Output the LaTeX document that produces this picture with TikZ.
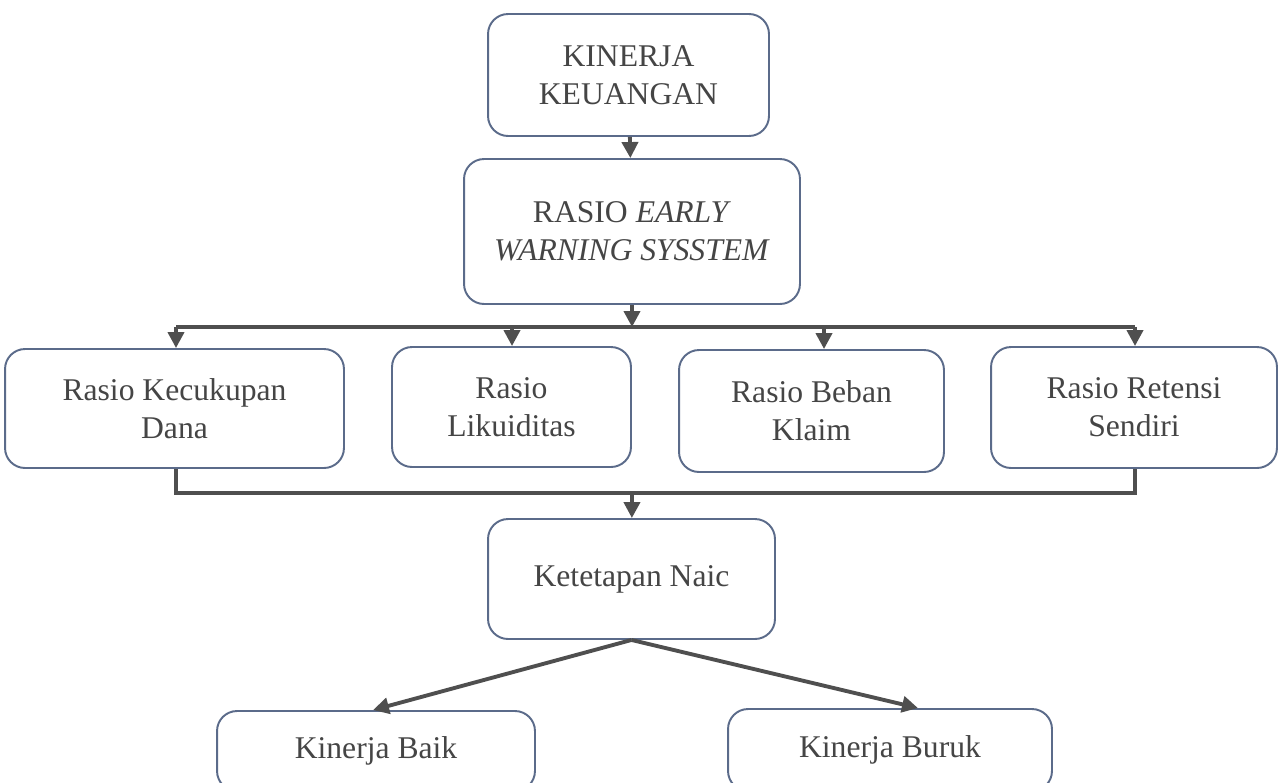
\documentclass[tikz,border=0pt]{standalone}
\usepackage{fontspec}
\setmainfont{Liberation Serif}
\usetikzlibrary{arrows.meta}

\definecolor{boxline}{HTML}{5B6B8A}
\definecolor{linkgray}{HTML}{4F4F4F}
\definecolor{textgray}{HTML}{454545}

\begin{document}
\begin{tikzpicture}[x=0.02cm, y=-0.02cm, >={Triangle[length=0.32cm,width=0.32cm]},
    box/.style={draw=boxline, line width=1.1pt, rounded corners=0.4cm, fill=white,
        align=center, inner sep=0pt, text=textgray, font=\fontsize{18}{21.6}\selectfont},
    link/.style={draw=linkgray, line width=2.2pt}]

        \clip (0,0) rectangle (1287,782);

        % ==== TOP BOXES ====
        \node[box, minimum width=5.62cm, minimum height=2.44cm] (kk) at (628.5,75) {KINERJA\\KEUANGAN};
        \node[box, minimum width=6.72cm, minimum height=2.9cm] (rews) at (632,231.5)
            {RASIO \textit{EARLY}\\\textit{WARNING SYSSTEM}};
        \draw[link, ->] (kk) -- (rews);

        % ==== RATIO BOXES ====
        \node[box, minimum width=6.78cm, minimum height=2.38cm] (rkd) at (174.5,408.5) {Rasio Kecukupan\\Dana};
        \node[box, minimum width=4.78cm, minimum height=2.4cm] (rl) at (511.5,407) {Rasio\\Likuiditas};
        \node[box, minimum width=5.3cm, minimum height=2.44cm] (rbk) at (811.5,411) {Rasio Beban\\Klaim};
        \node[box, minimum width=5.72cm, minimum height=2.42cm] (rrs) at (1134,407.5) {Rasio Retensi\\Sendiri};

        % ==== UPPER BRANCH LINE ====
        \coordinate (tbus) at (632,327);
        \coordinate (t1) at (176,327);
        \coordinate (t2) at (512,327);
        \coordinate (t3) at (824,327);
        \coordinate (t4) at (1135,327);
        \draw[link, ->] (rews) -- (tbus);
        \draw[link] (t1) -- (t4);
        \foreach \c/\b in {t1/rkd, t2/rl, t3/rbk, t4/rrs}{
            \draw[link, ->] (\c) -- (\c |- \b.north);
        }

        % ==== LOWER JOIN LINE ====
        \coordinate (b1) at (176,493);
        \coordinate (b4) at (1135,493);
        \coordinate (bbus) at (632,493);
        \draw[link] (b1 |- rkd.south) -- (b1) -- (b4) -- (b4 |- rrs.south);

        % ==== NAIC AND RESULT ====
        \node[box, minimum width=5.74cm, minimum height=2.4cm] (naic) at (631.5,579) {Ketetapan Naic};
        \draw[link, ->] (bbus) -- (naic);

        \node[box, minimum width=6.36cm, minimum height=1.6cm] (baik) at (376,751) {Kinerja Baik};
        \node[box, minimum width=6.48cm, minimum height=1.64cm] (buruk) at (890,750) {Kinerja Buruk};
        \draw[link, ->] (naic.south) -- ([xshift=-0.06cm]baik.north);
        \draw[link, ->] (naic.south) -- ([xshift=0.56cm]buruk.north);

    \end{tikzpicture}
\end{document}
